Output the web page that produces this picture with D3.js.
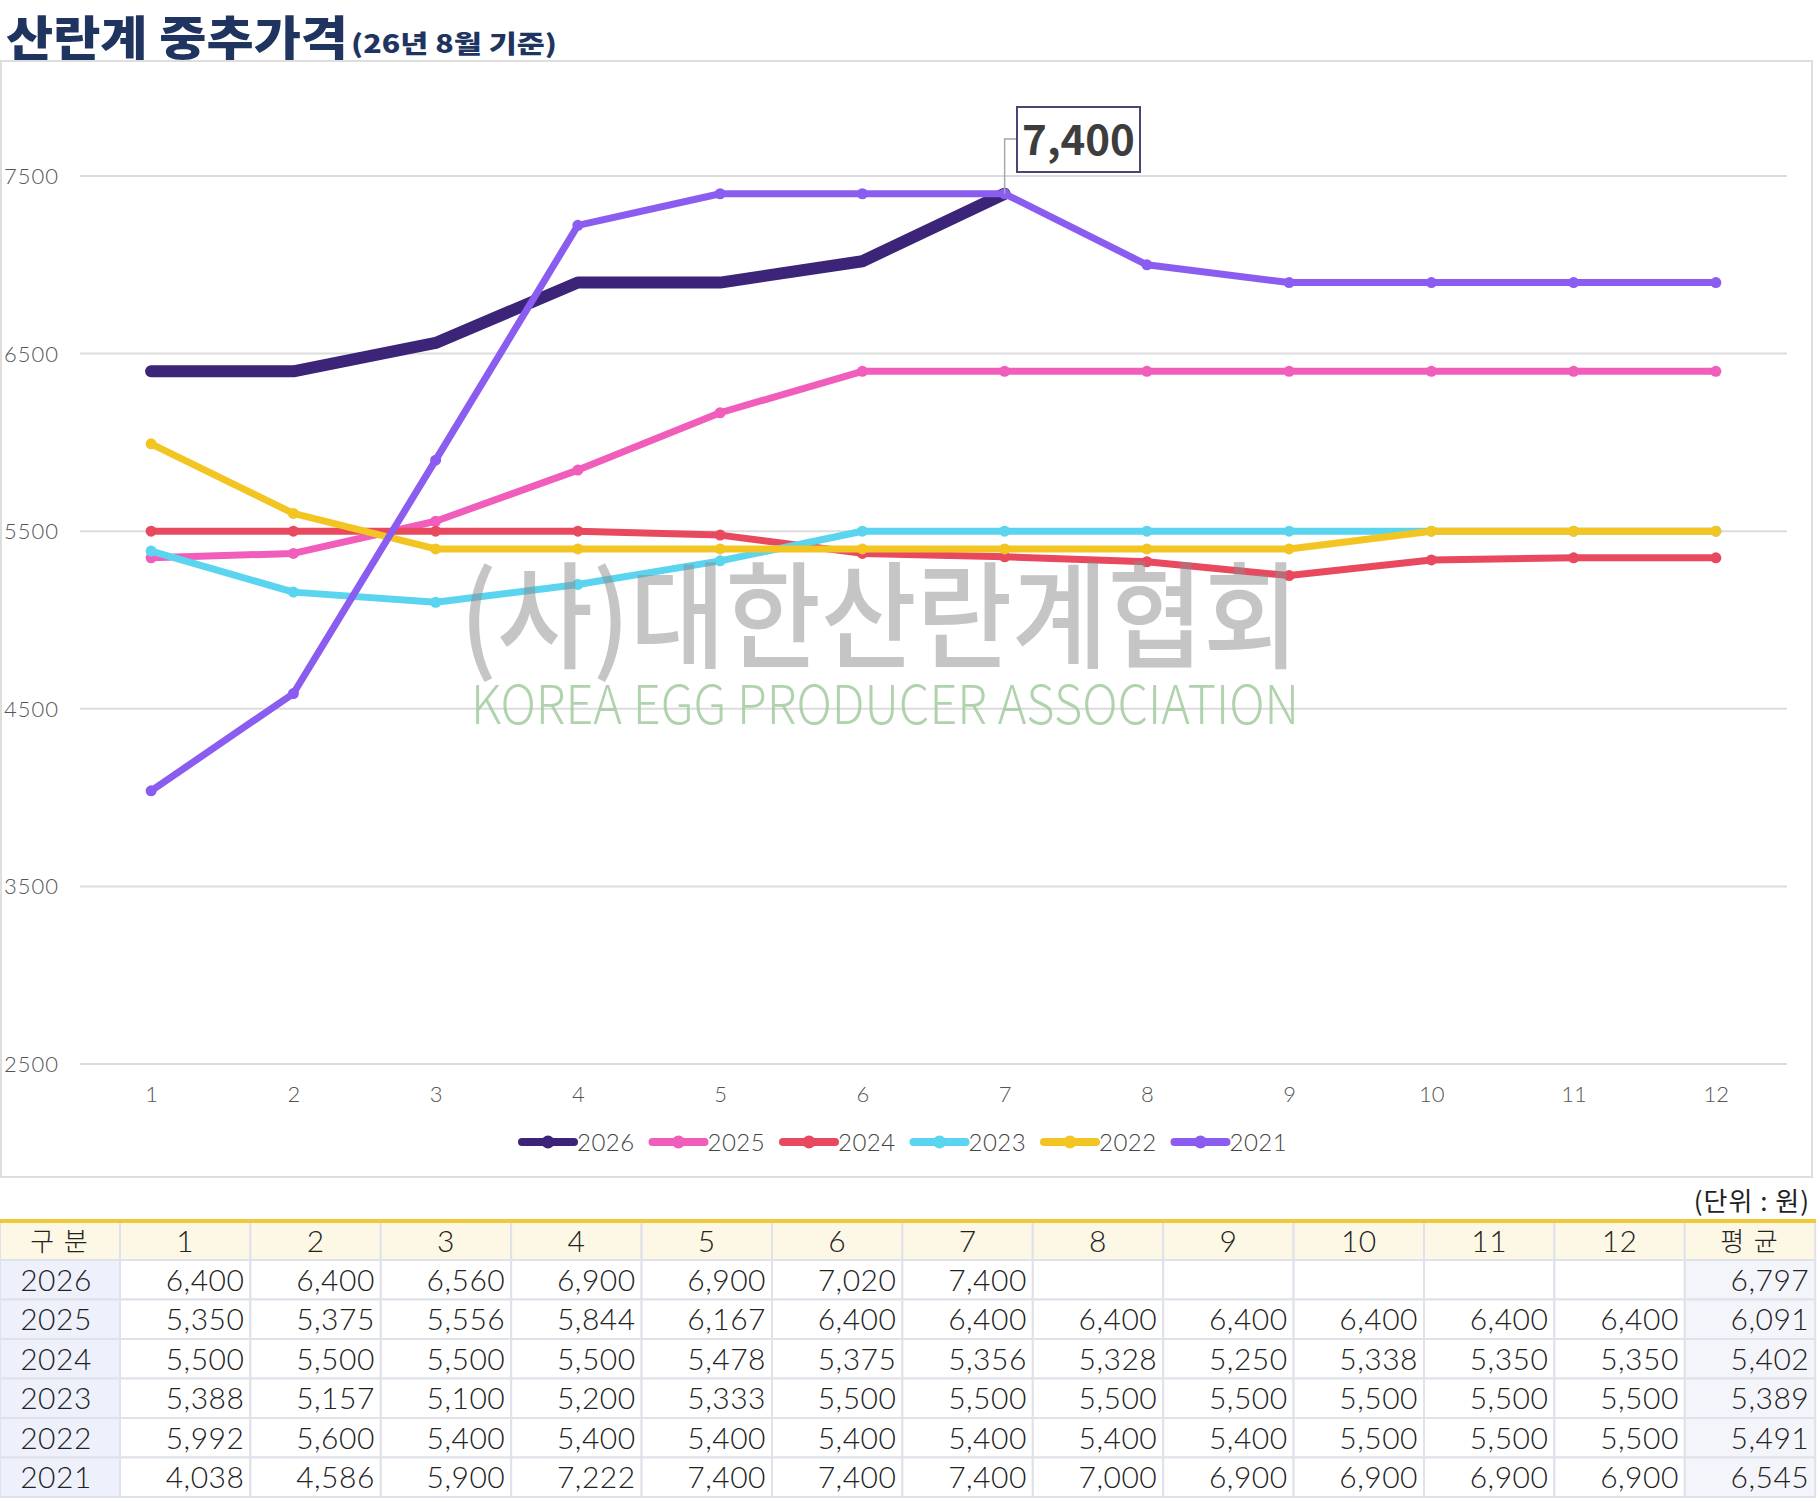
<!DOCTYPE html>
<html>
<head>
<meta charset="utf-8">
<script src="https://cdn.jsdelivr.net/npm/d3@7"></script>
<style>
  body { margin: 0; background: #fff; }
  svg text { font-family: "Noto Sans CJK KR", "Noto Sans", sans-serif; }
  svg text.num { font-family: Lato, "Noto Sans", sans-serif; }
</style>
</head>
<body>
<svg id="chart" width="1820" height="1502"></svg>
<script>
const months = [1, 2, 3, 4, 5, 6, 7, 8, 9, 10, 11, 12]
const years = ['2026', '2025', '2024', '2023', '2022', '2021']
const colors = ['#3c2478', '#f05dbb', '#e9495e', '#5ad4ef', '#f3c522', '#8b5cf0']
const yTicks = [2500, 3500, 4500, 5500, 6500, 7500]

const v2026 = [6400, 6400, 6560, 6900, 6900, 7020, 7400]
const v2025 = [5350, 5375, 5556, 5844, 6167, 6400, 6400, 6400, 6400, 6400, 6400, 6400]
const v2024 = [5500, 5500, 5500, 5500, 5478, 5375, 5356, 5328, 5250, 5338, 5350, 5350]
const v2023 = [5388, 5157, 5100, 5200, 5333, 5500, 5500, 5500, 5500, 5500, 5500, 5500]
const v2022 = [5992, 5600, 5400, 5400, 5400, 5400, 5400, 5400, 5400, 5500, 5500, 5500]
const v2021 = [4038, 4586, 5900, 7222, 7400, 7400, 7400, 7000, 6900, 6900, 6900, 6900]
const averages = [6797, 6091, 5402, 5389, 5491, 6545]

const series = [v2026, v2025, v2024, v2023, v2022, v2021]
const fmt = d3.format(',')

const svg = d3.select('#chart')

// title
svg.append('text').attr('x', 6).attr('y', 55)
  .attr('font-size', 47).attr('font-weight', 900).attr('fill', '#1f355f')
  .attr('textLength', 342).attr('lengthAdjust', 'spacingAndGlyphs')
  .text('산란계 중추가격')
svg.append('text').attr('x', 351).attr('y', 53)
  .attr('font-size', 25).attr('font-weight', 900).attr('fill', '#1f355f')
  .attr('textLength', 206).attr('lengthAdjust', 'spacingAndGlyphs')
  .text('(26년 8월 기준)')

svg.append('rect').attr('x', 1).attr('y', 61).attr('width', 1811).attr('height', 1116)
  .attr('fill', 'none').attr('stroke', '#dedede').attr('stroke-width', 2)

const x = d3.scalePoint().domain(months).range([80, 1787]).padding(0.5)
const y = d3.scaleLinear().domain([2500, 7500]).range([1064, 176])

// grid + y labels
const grid = svg.append('g')
grid.selectAll('line').data(yTicks).enter().append('line')
  .attr('x1', 80).attr('x2', 1787)
  .attr('y1', d => y(d)).attr('y2', d => y(d))
  .attr('stroke', '#dcdcdc').attr('stroke-width', 2)
grid.selectAll('text').data(yTicks).enter().append('text')
  .attr('class', 'num')
  .attr('x', 4).attr('y', d => y(d) + 8)
  .attr('font-size', 22).attr('font-weight', 300).attr('letter-spacing', 1).attr('fill', '#555')
  .text(d => d)

const xAxis = g => g
  .attr('transform', 'translate(0,1102)')
  .call(d3.axisBottom(x).tickSize(0).tickPadding(0))
  .call(g => g.select('.domain').remove())
  .call(g => g.selectAll('text').attr('class', 'num').attr('font-size', 22).attr('font-weight', 300)
    .attr('fill', '#555').attr('font-family', null).attr('dy', 0))
svg.append('g').call(xAxis)

// lines
const line = d3.line().x((d, i) => x(months[i])).y(d => y(d))
series.forEach((vals, k) => {
  const g = svg.append('g')
  g.append('path').datum(vals)
    .attr('d', line)
    .attr('fill', 'none')
    .attr('stroke', colors[k])
    .attr('stroke-width', k == 0 ? 12 : 7)
    .attr('stroke-linecap', 'round').attr('stroke-linejoin', 'round')
  g.selectAll('circle').data(vals).enter().append('circle')
    .attr('cx', (d, i) => x(months[i])).attr('cy', d => y(d))
    .attr('r', 5.5).attr('fill', colors[k])
})

// watermark
svg.append('text').attr('x', 460).attr('y', 659)
  .attr('font-size', 116).attr('font-weight', 500).attr('fill', '#8c8c8c').attr('opacity', 0.5)
  .attr('textLength', 839).attr('lengthAdjust', 'spacingAndGlyphs')
  .text('(사)대한산란계협회')
svg.append('text').attr('x', 471).attr('y', 724)
  .attr('font-size', 54).attr('font-weight', 300).attr('fill', '#a3cc9f').attr('opacity', 0.85)
  .attr('font-family', '"Open Sans", sans-serif')
  .attr('textLength', 828).attr('lengthAdjust', 'spacingAndGlyphs')
  .text('KOREA EGG PRODUCER ASSOCIATION')

// callout on last 2026 point
const last = v2026.length - 1
const px = x(months[last]), py = y(v2026[last])
svg.append('path')
  .attr('d', `M${px},${py} V139 H1017`)
  .attr('fill', 'none').attr('stroke', '#a8a8a8').attr('stroke-width', 1.5)
svg.append('rect').attr('x', 1017).attr('y', 107).attr('width', 123).attr('height', 65)
  .attr('fill', '#fff').attr('stroke', '#4b4574').attr('stroke-width', 2)
svg.append('text').attr('x', 1078.5).attr('y', 155).attr('text-anchor', 'middle')
  .attr('font-family', '"Noto Sans", sans-serif')
  .attr('font-size', 42).attr('font-weight', 700).attr('fill', '#3d3d3d')
  .text(fmt(v2026[last]))

// legend
const legend = svg.append('g').selectAll('g').data(years).enter().append('g')
  .attr('transform', (d, i) => `translate(${522 + i * 130.5},1142)`)
legend.append('line').attr('x1', 0).attr('x2', 52)
  .attr('stroke', (d, i) => colors[i]).attr('stroke-width', 8).attr('stroke-linecap', 'round')
legend.append('circle').attr('cx', 26).attr('r', 6.5).attr('fill', (d, i) => colors[i])
legend.append('text').attr('class', 'num').attr('x', 55).attr('y', 9)
  .attr('font-size', 24).attr('font-weight', 300).attr('letter-spacing', 0.5).attr('fill', '#444').text(d => d)

// table
svg.append('text').attr('x', 1810).attr('y', 1211).attr('text-anchor', 'end')
  .attr('font-size', 26).attr('letter-spacing', 1).attr('fill', '#222').text('(단위 : 원)')

const headers = ['구 분'].concat(months.map(String)).concat(['평 균'])
const colX = i => i == 0 ? 0 : 120 + (i - 1) * 130.4
const colW = i => i == 0 ? 120 : 130.4
const rowTop = 1222, headH = 38, rowH = 39.5

const rows = years.map((yr, k) => {
  const cells = months.map((m, i) => series[k][i] != null ? fmt(series[k][i]) : '')
  return [yr].concat(cells).concat([fmt(averages[k])])
})

const tbl = svg.append('g')
headers.forEach((h, i) => {
  const hangul = i == 0 || i == 13
  tbl.append('rect').attr('x', colX(i)).attr('y', rowTop).attr('width', colW(i)).attr('height', headH)
    .attr('fill', '#fdf8e5').attr('stroke', '#dfe2ea').attr('stroke-width', 2)
  tbl.append('text').attr('class', hangul ? null : 'num')
    .attr('x', colX(i) + colW(i) / 2).attr('y', rowTop + (hangul ? 29 : 30))
    .attr('text-anchor', 'middle').attr('font-size', hangul ? 26 : 30).attr('font-weight', 300)
    .attr('letter-spacing', hangul ? 2 : 0.5).attr('fill', '#222')
    .text(h)
})
rows.forEach((r, k) => {
  const top = rowTop + headH + k * rowH
  r.forEach((c, i) => {
    const bg = i == 0 ? '#eef1fb' : (i == 13 ? '#f4f5fb' : '#fff')
    tbl.append('rect').attr('x', colX(i)).attr('y', top).attr('width', colW(i)).attr('height', rowH)
      .attr('fill', bg).attr('stroke', '#dfe2ea').attr('stroke-width', 2)
    tbl.append('text').attr('class', 'num')
      .attr('x', i == 0 ? 56 : colX(i) + colW(i) - 6)
      .attr('y', top + 30.5)
      .attr('text-anchor', i == 0 ? 'middle' : 'end')
      .attr('font-size', 30).attr('font-weight', 300).attr('letter-spacing', 0.5).attr('fill', '#222')
      .text(c)
  })
})
tbl.append('line').attr('x1', 0).attr('x2', 1816).attr('y1', rowTop - 1).attr('y2', rowTop - 1)
  .attr('stroke', '#f0c93a').attr('stroke-width', 4)
</script>
</body>
</html>
